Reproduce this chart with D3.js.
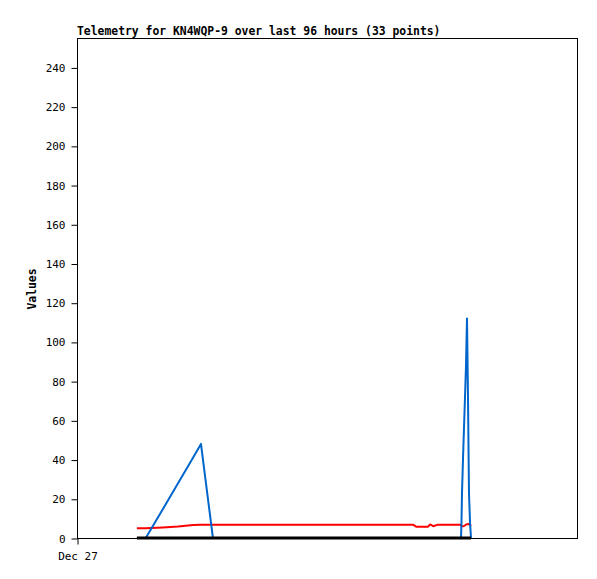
<!DOCTYPE html>
<html>
<head>
<meta charset="utf-8">
<script src="https://cdn.jsdelivr.net/npm/d3@7"></script>
<style>
  body { margin: 0; background: #fff; }
  text { font-family: "DejaVu Sans Mono", monospace; }
</style>
</head>
<body>
<div id="chart"></div>
<script>
// hours after Dec 27 00:00 for each of the 33 telemetry packets
var hours = [11.5, 13.2, 16.5, 19.4, 22.3, 23.8, 26.1, 30, 35, 40, 45, 50, 55, 60,
  64.5, 65.1, 67.4, 67.8, 68.4, 69.3, 72,
  73.73, 73.82, 73.92, 74.11, 74.3, 74.5, 74.69, 74.88, 75.07, 75.26, 75.46, 75.65];
var redValues = [5.0, 5.0, 5.4, 5.9, 6.6, 6.8, 6.8, 6.8, 6.8, 6.8, 6.8, 6.8, 6.8, 6.8,
  6.8, 5.8, 5.8, 6.9, 6.0, 6.8, 6.8,
  6.8, 6.0, 6.0, 6.0, 6.2, 6.5, 6.8, 7.0, 7.0, 7.2, 6.8, 6.2];
var blueValues = [0, 0, 14.8, 27.9, 41, 48, 0, 0, 0, 0, 0, 0, 0, 0,
  0, 0, 0, 0, 0, 0, 0,
  0, 8, 23, 40, 56, 72, 88, 112, 72, 23, 8, 0];
var blackValues = [0, 0, 0, 0, 0, 0, 0, 0, 0, 0, 0, 0, 0, 0,
  0, 0, 0, 0, 0, 0, 0,
  0, 0, 0, 0, 0, 0, 0, 0, 0, 0, 0, 0];
var yTicks = [0, 20, 40, 60, 80, 100, 120, 140, 160, 180, 200, 220, 240];
var title = "Telemetry for KN4WQP-9 over last 96 hours (33 points)";

var W = 597, H = 579;
var margin = { top: 38, right: 20, bottom: 41, left: 77 };
var width = W - margin.left - margin.right;
var height = H - margin.top - margin.bottom;

var start = new Date(2023, 11, 27, 0, 0);
var times = hours.map(function(h) { return new Date(start.getTime() + h * 3600000); });

var svg = d3.select('#chart').append('svg')
  .attr('width', W).attr('height', H);

var xScale = d3.scaleTime()
  .domain([start, new Date(start.getTime() + 96 * 3600000)])
  .range([0, width]);
var yScale = d3.scaleLinear().domain([0, 255]).range([height, 0]);

var canvas = svg.append('g')
  .attr('transform', 'translate(' + margin.left + ',' + margin.top + ')');

// frame
canvas.append('rect')
  .attr('x', 0.5).attr('y', 0.5)
  .attr('width', width).attr('height', height)
  .attr('fill', 'none').attr('stroke', '#000');

var yAxis = d3.axisLeft(yScale).tickValues(yTicks).tickSize(6).tickPadding(6)
  .tickFormat(d3.format('d'));
var xAxis = d3.axisBottom(xScale).tickValues([start]).tickSize(6).tickPadding(8)
  .tickFormat(d3.timeFormat('%b %d'));

var gy = canvas.append('g').attr('transform', 'translate(0.5,0.5)').call(yAxis);
var gx = canvas.append('g').attr('transform', 'translate(0.5,' + (height + 0.5) + ')').call(xAxis);
[gy, gx].forEach(function(g) {
  g.select('.domain').remove();
  g.selectAll('text').style('font-family', '"DejaVu Sans Mono", monospace')
    .style('font-size', '11px').attr('fill', '#000');
  g.selectAll('line').attr('stroke', '#000');
});

// series lines (red first, black drawn last over the zero line)
var series = [
  { values: redValues, color: '#ff0000', w: 2 },
  { values: blueValues, color: '#0066cc', w: 2 },
  { values: blackValues, color: '#000000', w: 3 }
];
var line = d3.line()
  .x(function(d) { return xScale(d.t); })
  .y(function(d) { return yScale(d.v); });

series.forEach(function(s) {
  var pts = times.map(function(t, i) { return { t: t, v: s.values[i] }; });
  canvas.append('path')
    .attr('d', line(pts))
    .attr('fill', 'none')
    .attr('stroke', s.color)
    .attr('stroke-width', s.w)
    .attr('stroke-linejoin', 'round');
});

// title and axis label
svg.append('text')
  .attr('x', margin.left).attr('y', 35)
  .style('font-size', '11.4px').style('font-weight', 'bold')
  .text(title);

svg.append('text')
  .attr('transform', 'translate(36,289) rotate(-90)')
  .attr('text-anchor', 'middle')
  .style('font-size', '11.4px').style('font-weight', 'bold')
  .text('Values');
</script>
</body>
</html>
